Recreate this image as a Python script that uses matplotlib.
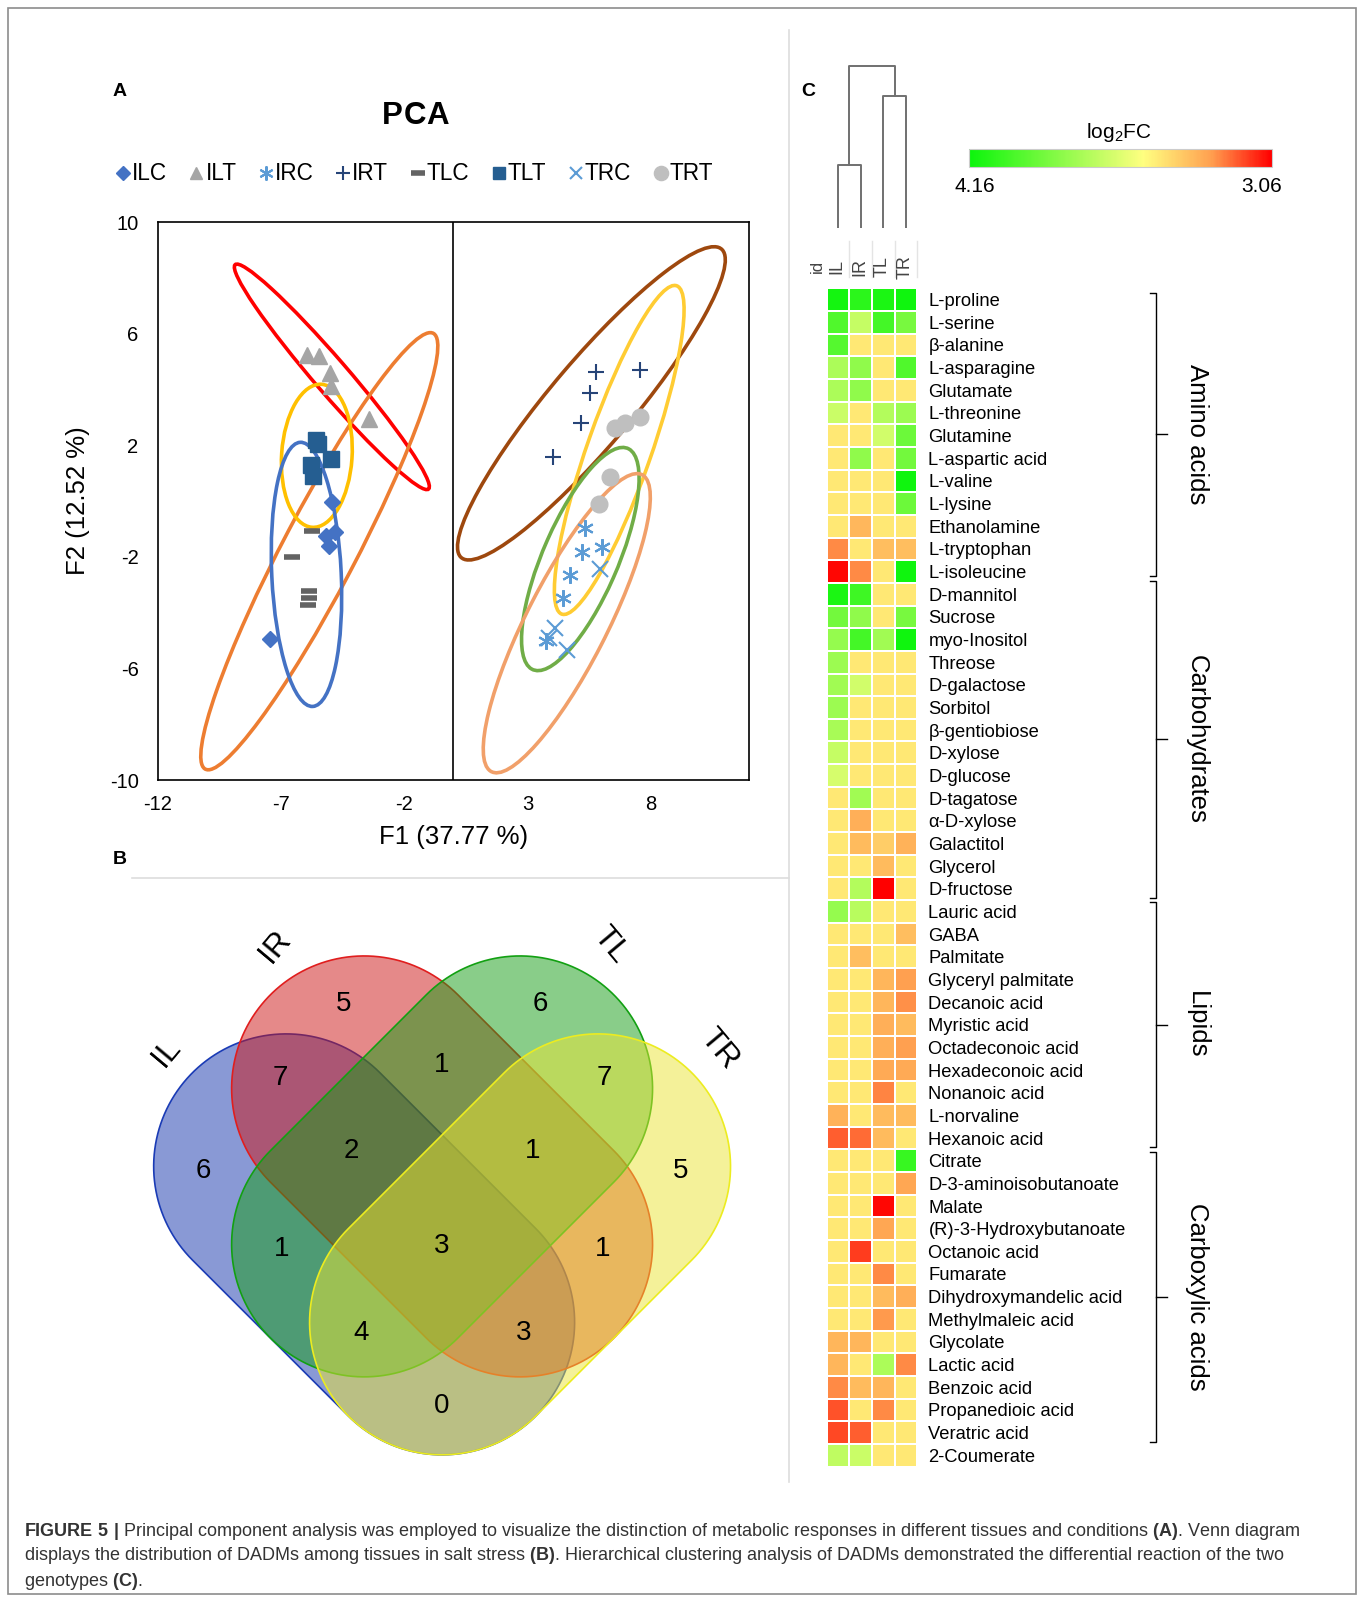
import numpy as np
import matplotlib
matplotlib.use("Agg")
import matplotlib.pyplot as plt
from matplotlib.patches import Ellipse, Polygon, Rectangle
from matplotlib.lines import Line2D
from matplotlib.colors import LinearSegmentedColormap, Normalize

plt.rcParams["font.family"] = "Liberation Sans"
plt.rcParams["mathtext.fontset"] = "custom"
plt.rcParams["mathtext.rm"] = "Liberation Sans"
plt.rcParams["mathtext.bf"] = "Liberation Sans:bold"
plt.rcParams["mathtext.default"] = "regular"
plt.rcParams["axes.unicode_minus"] = False

# ------------------------------------------------------------
# PCA scores (F1, F2) per group
# ------------------------------------------------------------
ilc_f1 = [-4.94, -4.80, -5.17, -5.04, -7.45]
ilc_f2 = [-0.05, -1.12, -1.26, -1.60, -4.95]
ilt_f1 = [-5.96, -5.48, -5.01, -4.97, -3.45]
ilt_f2 = [5.25, 5.21, 4.60, 4.12, 2.93]
irc_f1 = [5.32, 5.22, 6.04, 4.75, 4.45, 3.75]
irc_f2 = [-0.98, -1.83, -1.65, -2.67, -3.46, -5.00]
irt_f1 = [5.80, 7.57, 5.56, 5.18, 4.04]
irt_f2 = [4.63, 4.69, 3.86, 2.81, 1.56]
tlc_f1 = [-5.74, -6.57, -5.87, -5.87, -5.92]
tlc_f2 = [-1.06, -1.99, -3.24, -3.46, -3.71]
tlt_f1 = [-5.60, -5.52, -4.97, -5.80, -5.70]
tlt_f2 = [2.20, 2.05, 1.52, 1.28, 0.88]
trc_f1 = [5.94, 4.12, 3.88, 4.60]
trc_f2 = [-2.43, -4.55, -4.90, -5.35]
trt_f1 = [6.54, 6.98, 7.57, 6.35, 5.90]
trt_f2 = [2.60, 2.79, 3.02, 0.87, -0.11]

# confidence ellipses (centre, semi-axes, angle in data units)
ell_cx = [-4.94, -5.45, -5.55, -5.97, 5.60, 6.73, 5.15, 4.60]
ell_cy = [4.45, -1.80, 1.62, -2.63, 3.50, 1.83, -2.08, -4.38]
ell_a = [5.62, 9.08, 2.57, 4.74, 7.65, 6.33, 4.41, 6.14]
ell_b = [0.65, 1.45, 1.43, 1.41, 1.60, 1.28, 1.50, 1.60]
ell_angle = [-45.6, 59.2, 85.5, 93.1, 46.0, 68.2, 63.4, 59.7]
ell_colors = ["#FF0000", "#ED7D31", "#FFC000", "#4472C4",
              "#9E480E", "#FFCC33", "#70AD47", "#F1A06A"]

# ------------------------------------------------------------
# Venn counts
# ------------------------------------------------------------
venn_sets = ["IL", "IR", "TL", "TR"]
venn_regions = ["IL", "IR", "TL", "TR", "IL&IR", "IR&TL", "TL&TR",
                "IL&IR&TL", "IR&TL&TR", "IL&TL", "ALL", "IR&TR",
                "IL&TL&TR", "IL&IR&TR", "IL&TR"]
venn_counts = [6, 5, 6, 5, 7, 1, 7, 2, 1, 1, 3, 1, 4, 3, 0]

# ------------------------------------------------------------
# Heatmap log2FC
# ------------------------------------------------------------
conditions = ["IL", "IR", "TL", "TR"]
metabolites = [
    "L-proline", "L-serine", "β-alanine", "L-asparagine", "Glutamate",
    "L-threonine", "Glutamine", "L-aspartic acid", "L-valine", "L-lysine",
    "Ethanolamine", "L-tryptophan", "L-isoleucine",
    "D-mannitol", "Sucrose", "myo-Inositol", "Threose", "D-galactose",
    "Sorbitol", "β-gentiobiose", "D-xylose", "D-glucose", "D-tagatose",
    "α-D-xylose", "Galactitol", "Glycerol", "D-fructose",
    "Lauric acid", "GABA", "Palmitate", "Glyceryl palmitate",
    "Decanoic acid", "Myristic acid", "Octadeconoic acid",
    "Hexadeconoic acid", "Nonanoic acid", "L-norvaline", "Hexanoic acid",
    "Citrate", "D-3-aminoisobutanoate", "Malate", "(R)-3-Hydroxybutanoate",
    "Octanoic acid", "Fumarate", "Dihydroxymandelic acid",
    "Methylmaleic acid", "Glycolate", "Lactic acid", "Benzoic acid",
    "Propanedioic acid", "Veratric acid", "2-Coumerate",
]
il_fc = [-4.0, -3.0, -2.9, -1.4, -1.4, -0.9, 0.4, 0.4, 0.4, 0.4, 0.4, 1.8, 3.0,
         -3.9, -2.4, -1.8, -1.7, -1.6, -1.7, -1.5, -1.0, -0.7, 0.4, 0.4, 0.4, 0.4, 0.4,
         -1.8, 0.4, 0.4, 0.4, 0.4, 0.4, 0.4, 0.4, 0.4, 1.3, 2.2,
         0.4, 0.4, 0.4, 0.4, 0.4, 0.4, 0.4, 0.4, 1.25, 1.25, 1.8, 2.3, 2.4, -1.1]
ir_fc = [-3.6, -1.0, 0.4, -1.9, -1.9, 0.4, 0.4, -1.9, 0.4, 0.4, 1.2, 0.4, 1.8,
         -3.3, -1.9, -3.2, 0.4, -0.8, 0.4, 0.4, 0.4, 0.4, -1.6, 1.35, 1.15, 0.4, -1.3,
         -1.2, 0.4, 1.1, 0.4, 0.4, 0.4, 0.4, 0.4, 0.4, 0.4, 2.1,
         0.4, 0.4, 0.4, 0.4, 2.5, 0.4, 0.4, 0.4, 1.25, 0.4, 1.15, 0.4, 2.2, -0.9]
tl_fc = [-3.9, -3.2, 0.4, 0.4, 0.4, -1.3, -0.8, 0.4, 0.4, 0.4, 0.4, 1.1, 0.4,
         0.4, 0.4, -1.6, 0.4, 0.4, 0.4, 0.4, 0.4, 0.4, 0.4, 0.4, 0.85, 1.15, 3.06,
         0.4, 0.4, 0.4, 1.25, 1.25, 1.35, 1.35, 1.45, 1.85, 1.15, 1.15,
         0.4, 0.4, 3.0, 1.5, 0.4, 1.8, 1.15, 1.65, 0.4, -1.4, 1.25, 1.8, 0.4, 0.4]
tr_fc = [-4.1, -2.3, 0.4, -3.0, 0.4, -1.7, -2.5, -2.4, -4.1, -2.5, 0.4, 1.1, -4.1,
         0.4, -2.3, -4.1, 0.4, 0.4, 0.4, 0.4, 0.4, 0.4, 0.4, 0.4, 1.3, 0.4, 0.4,
         0.4, 1.1, 0.4, 1.6, 1.75, 1.15, 1.6, 1.45, 0.4, 1.15, 0.4,
         -3.4, 1.5, 0.4, 0.4, 0.4, 0.4, 1.35, 0.4, 0.4, 1.8, 0.4, 0.4, 0.4, 0.4]
fc_min, fc_max = -4.16, 3.06

classes = ["Amino acids", "Carbohydrates", "Lipids", "Carboxylic acids"]
class_spans = [(0.2, 12.7), (12.9, 26.9), (27.1, 37.9), (38.1, 50.9)]

# column clustering (leaf pairs IL-IR, TL-TR, then root)
dendro_heights = [0.39, 0.815, 1.0]

# ------------------------------------------------------------
# figure
# ------------------------------------------------------------
W, H = 1362, 1597
fig = plt.figure(figsize=(W / 100, H / 100), dpi=100)


def fig_rect(left, top, right, bottom):
    return [left / W, 1 - bottom / H, (right - left) / W, (bottom - top) / H]


bg = fig.add_axes([0, 0, 1, 1], zorder=-5)
bg.set_xlim(0, W)
bg.set_ylim(H, 0)
bg.axis("off")
bg.add_patch(Rectangle((8, 8), 1348, 1586, fill=False, ec="#8c8c8c", lw=1.2))
bg.plot([789, 789], [30, 1482], color="#dddddd", lw=1.2)
bg.plot([132, 789], [878, 878], color="#dddddd", lw=1.2)
bg.text(120, 91, "A", fontsize=14, fontweight="bold", ha="center", va="center")
bg.text(120, 859, "B", fontsize=14, fontweight="bold", ha="center", va="center")
bg.text(808, 91, "C", fontsize=14, fontweight="bold", ha="center", va="center")
for ch, x in zip("PCA", [392, 415, 438]):
    bg.text(x, 116, ch, fontsize=22.5, fontweight="bold", ha="center", va="center")

caption = [
    r"$\mathbf{FIGURE\ 5\ |}$ Principal component analysis was employed to visualize the "
    r"distinction of metabolic responses in different tissues and conditions $\mathbf{(A)}$. Venn diagram",
    r"displays the distribution of DADMs among tissues in salt stress $\mathbf{(B)}$. "
    r"Hierarchical clustering analysis of DADMs demonstrated the differential reaction of the two",
    r"genotypes $\mathbf{(C)}$.",
]
for i, line in enumerate(caption):
    bg.text(24.5, 1531 + i * 25, line, fontsize=13, color="#333333",
            ha="left", va="center")

# ------------------------------------------------------------
# A: PCA
# ------------------------------------------------------------
ax = fig.add_axes(fig_rect(158, 222, 749, 780))

for cx, cy, a, b, ang, col in zip(ell_cx, ell_cy, ell_a, ell_b, ell_angle, ell_colors):
    ax.add_patch(Ellipse((cx, cy), 2 * a, 2 * b, angle=ang, fill=False,
                         ec=col, lw=2.6, zorder=2))

groups = {
    "ILC": (ilc_f1, ilc_f2, dict(marker="D", color="#4472C4", ms=8)),
    "ILT": (ilt_f1, ilt_f2, dict(marker="^", color="#A5A5A5", ms=11)),
    "IRC": (irc_f1, irc_f2, dict(marker=(6, 2, 0), color="#5B9BD5", ms=12, mew=1.5)),
    "IRT": (irt_f1, irt_f2, dict(marker="+", color="#264478", ms=12, mew=1.5)),
    "TLC": (tlc_f1, tlc_f2, dict(marker="_", color="#636363", ms=12, mew=4)),
    "TLT": (tlt_f1, tlt_f2, dict(marker="s", color="#255E91", ms=11)),
    "TRC": (trc_f1, trc_f2, dict(marker="x", color="#5B9BD5", ms=11, mew=1.5)),
    "TRT": (trt_f1, trt_f2, dict(marker="o", color="#BFBFBF", ms=12)),
}
handles = []
for name, (xs, ys, st) in groups.items():
    ax.plot(xs, ys, linestyle="none", zorder=3, **st)
    handles.append(Line2D([], [], linestyle="none", label=name, **st))

ax.axvline(0, color="black", lw=1.2, zorder=1)
ax.set_xlim(-12, 12)
ax.set_ylim(-10, 10)
ax.set_xticks([-12, -7, -2, 3, 8])
ax.set_yticks([-10, -6, -2, 2, 6, 10])
ax.tick_params(length=0, labelsize=14.5)
ax.tick_params(axis="x", pad=11)
ax.tick_params(axis="y", pad=14)
for s in ax.spines.values():
    s.set_linewidth(1.2)
ax.set_xlabel("F1 (37.77 %)", fontsize=18.5, labelpad=8)
ax.set_ylabel("F2 (12.52 %)", fontsize=18.5, labelpad=14)

fig.legend(handles=handles, loc="center", bbox_to_anchor=(414 / W, 1 - 174 / H),
           ncol=8, frameon=False, fontsize=16.3, handlelength=0.7,
           handletextpad=0.05, columnspacing=0.95, markerscale=0.85)

# ------------------------------------------------------------
# B: Venn diagram (capsule shapes)
# ------------------------------------------------------------
vax = fig.add_axes(fig_rect(114.7, 885.8, 769.5, 1478.2))
vax.set_xlim(-2.1, 2.1)
vax.set_ylim(-1.0, 2.8)
vax.axis("off")


def capsule(c1, c2, r, n=80):
    phi = np.arctan2(c2[1] - c1[1], c2[0] - c1[0])
    t2 = np.linspace(phi - np.pi / 2, phi + np.pi / 2, n)
    t1 = np.linspace(phi + np.pi / 2, phi + 3 * np.pi / 2, n)
    pts2 = np.column_stack([c2[0] + r * np.cos(t2), c2[1] + r * np.sin(t2)])
    pts1 = np.column_stack([c1[0] + r * np.cos(t1), c1[1] + r * np.sin(t1)])
    return np.vstack([pts2, pts1])


venn_shapes = {
    "IL": ((-1.0, 1.0), (0.0, 0.0)),
    "IR": ((-0.5, 1.5), (0.5, 0.5)),
    "TL": ((0.5, 1.5), (-0.5, 0.5)),
    "TR": ((1.0, 1.0), (0.0, 0.0)),
}
venn_face = {"IL": "#1535AD", "IR": "#CD1515", "TL": "#159D15", "TR": "#EBE535"}
venn_edge = {"IL": "#1A3BB5", "IR": "#E01E1E", "TL": "#12A012", "TR": "#ECEC20"}
for name in venn_sets:
    c1, c2 = venn_shapes[name]
    fc = matplotlib.colors.to_rgba(venn_face[name], 0.5)
    vax.add_patch(Polygon(capsule(c1, c2, 0.85), closed=True, fc=fc,
                          ec=venn_edge[name], lw=1.2))

region_pos = [(-1.53, 0.97), (-0.63, 2.04), (0.63, 2.04), (1.53, 0.97),
              (-1.04, 1.57), (0.0, 1.65), (1.04, 1.57),
              (-0.58, 1.10), (0.58, 1.10),
              (-1.03, 0.47), (0.0, 0.49), (1.03, 0.47),
              (-0.52, -0.07), (0.52, -0.07), (0.0, -0.54)]
for (x, y), n in zip(region_pos, venn_counts):
    vax.text(x, y, str(n), fontsize=20, ha="center", va="center")

set_label_pos = [(-1.77, 1.73, 50), (-1.07, 2.41, 50), (1.08, 2.42, -50), (1.78, 1.75, -50)]
for name, (x, y, rot) in zip(venn_sets, set_label_pos):
    vax.text(x, y, name, fontsize=23, rotation=rot, ha="center", va="center")

# ------------------------------------------------------------
# C: heatmap with column dendrogram
# ------------------------------------------------------------
cmap = LinearSegmentedColormap.from_list(
    "gyr", [(0.0, "#0CF50C"), (0.576, "#FFFF80"), (0.8, "#FFA050"), (1.0, "#FF0000")])
norm = Normalize(vmin=fc_min, vmax=fc_max)
values = np.column_stack([il_fc, ir_fc, tl_fc, tr_fc])

hax = fig.add_axes(fig_rect(826.7, 288.3, 917.3, 1466.6))
mesh = hax.pcolormesh(values, cmap=cmap, norm=norm, edgecolors="white", linewidth=1.3)
hax.set_xlim(0, 4)
hax.set_ylim(len(metabolites), 0)
hax.set_xticks([])
hax.set_yticks(np.arange(len(metabolites)) + 0.5, labels=metabolites)
hax.yaxis.tick_right()
hax.tick_params(axis="y", length=0, pad=8, labelsize=13.2)
for s in hax.spines.values():
    s.set_visible(False)

hax.text(-0.42, -0.95, "id", rotation=90, ha="center", va="center",
         fontsize=12, color="#444444", clip_on=False)
for i, lab in enumerate(conditions):
    hax.text(i + 0.45, -0.95, lab, rotation=90, ha="center", va="center",
             fontsize=13, color="#444444", clip_on=False)
    hax.plot([i + 1, i + 1], [-2.1, -0.5], color="#e4e4e4", lw=1, clip_on=False)

for name, (y0, y1) in zip(classes, class_spans):
    xb = 14.54
    hax.plot([xb - 0.28, xb, xb, xb - 0.28], [y0, y0, y1, y1], color="black",
             lw=1, clip_on=False)
    ym = (y0 + y1) / 2
    hax.plot([xb, xb + 0.5], [ym, ym], color="black", lw=1, clip_on=False)
    hax.text(16.35, ym, name, rotation=-90, ha="center", va="center",
             fontsize=18.5, clip_on=False)

dax = fig.add_axes(fig_rect(826.7, 60, 917.3, 228.3))
dax.set_xlim(0, 4)
dax.set_ylim(0, 1.037)
dax.axis("off")
h1, h2, h3 = dendro_heights
dcol = "#707070"
dax.plot([0.5, 0.5, 1.5, 1.5], [0, h1, h1, 0], color=dcol, lw=1.4)
dax.plot([2.5, 2.5, 3.5, 3.5], [0, h2, h2, 0], color=dcol, lw=1.4)
dax.plot([1.0, 1.0, 3.0, 3.0], [h1, h3, h3, h2], color=dcol, lw=1.4)

cax = fig.add_axes(fig_rect(969.3, 149.3, 1271.7, 166.7))
cb = fig.colorbar(mesh, cax=cax, orientation="horizontal")
cb.set_ticks([])
cb.outline.set_edgecolor("#cccccc")
bg.text(1119, 133, "log$_2$FC", fontsize=15, ha="center", va="center")
bg.text(975, 187, "4.16", fontsize=15, ha="center", va="center")
bg.text(1262, 187, "3.06", fontsize=15, ha="center", va="center")

fig.savefig("out.png", dpi=100)
